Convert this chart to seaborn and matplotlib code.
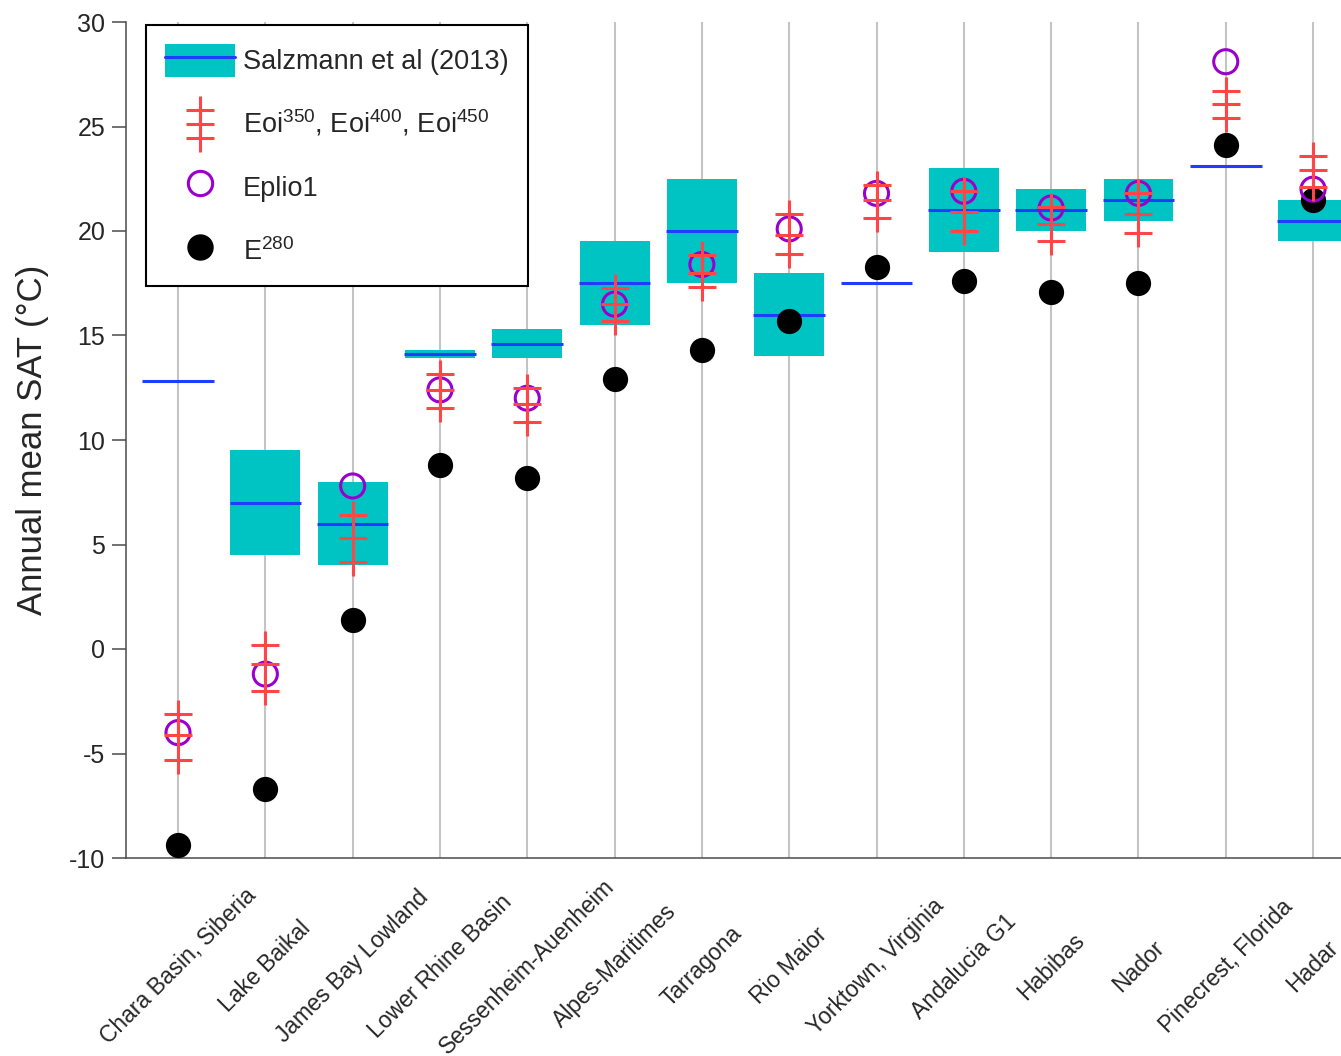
import numpy as np
import pandas as pd
import matplotlib
matplotlib.use("Agg")
import matplotlib.pyplot as plt
import seaborn as sns
from matplotlib.patches import Patch
from matplotlib.lines import Line2D
from matplotlib.markers import MarkerStyle
from matplotlib.legend_handler import HandlerBase, HandlerTuple

# ---- data -------------------------------------------------------------
sites = ["Chara Basin, Siberia", "Lake Baikal", "James Bay Lowland",
         "Lower Rhine Basin", "Sessenheim-Auenheim", "Alpes-Maritimes",
         "Tarragona", "Rio Maior", "Yorktown, Virginia", "Andalucia G1",
         "Habibas", "Nador", "Pinecrest, Florida", "Hadar"]

# Salzmann et al (2013) proxy estimates: range and best estimate
salz_low = [12.8, 4.5, 4.0, 13.9, 13.9, 15.5, 17.5, 14.0, 17.5, 19.0, 20.0, 20.5, 23.1, 19.5]
salz_mid = [12.8, 7.0, 6.0, 14.1, 14.6, 17.5, 20.0, 16.0, 17.5, 21.0, 21.0, 21.5, 23.1, 20.5]
salz_high = [12.8, 9.5, 8.0, 14.3, 15.3, 19.5, 22.5, 18.0, 17.5, 23.0, 22.0, 22.5, 23.1, 21.5]

# model simulations
eoi350 = [-5.3, -2.0, 4.15, 11.55, 10.85, 15.7, 17.3, 18.9, 20.6, 20.0, 19.5, 19.9, 25.4, 22.1]
eoi400 = [-4.1, -0.7, 5.3, 12.4, 11.7, 16.5, 18.0, 19.8, 21.5, 20.9, 20.35, 20.8, 26.1, 22.9]
eoi450 = [-3.1, 0.2, 6.4, 13.15, 12.5, 17.25, 18.85, 20.8, 22.2, 21.9, 21.15, 21.8, 26.7, 23.6]
eplio1 = [-4.0, -1.2, 7.8, 12.4, 12.0, 16.5, 18.4, 20.1, 21.8, 21.9, 21.1, 21.8, 28.1, 22.0]
e280 = [-9.4, -6.7, 1.4, 8.8, 8.2, 12.9, 14.3, 15.7, 18.3, 17.6, 17.1, 17.5, 24.1, 21.5]

yticks = [-10, -5, 0, 5, 10, 15, 20, 25, 30]

# ---- style ------------------------------------------------------------
CYAN = "#00c4c4"
BLUE = "#1f3dff"
RED = "#ff4545"
PURPLE = "#9a00cc"
GRID = "#c4c4c4"
SPINE = "#4a4a4a"

sns.set_theme(style="white")
plt.rcParams["font.family"] = ["Liberation Sans", "DejaVu Sans"]
plt.rcParams["mathtext.default"] = "regular"
plt.rcParams["mathtext.fontset"] = "custom"
plt.rcParams["mathtext.rm"] = "Liberation Sans"
plt.rcParams["axes.unicode_minus"] = False

fig = plt.figure(figsize=(13.41, 10.56), dpi=100)
ax = fig.add_axes([126 / 1341, 198 / 1056, 1215 / 1341, 836 / 1056])

n = len(sites)
xpos = np.arange(n)

# light vertical guide at every site
for xv in xpos:
    ax.axvline(xv, color=GRID, lw=1.5, zorder=0)

# proxy range boxes
heights = np.subtract(salz_high, salz_low)
sns.barplot(x=sites, y=heights, bottom=salz_low, color=CYAN, saturation=1,
            width=0.8, errorbar=None, edgecolor="none", linewidth=0,
            ax=ax, zorder=1)

# proxy best estimate
ax.hlines(salz_mid, xpos - 0.41, xpos + 0.41, color=BLUE, lw=2.2, zorder=2)

# E280 pre-industrial
sns.scatterplot(x=xpos, y=e280, marker="o", s=330, color="black",
                linewidth=0, ax=ax, zorder=3, legend=False)

# Eplio1
sns.scatterplot(x=xpos, y=eplio1, marker=MarkerStyle("o", fillstyle="none"),
                s=300, color=PURPLE, linewidth=2.2, ax=ax, zorder=4, legend=False)

# Eoi350 / Eoi400 / Eoi450
eoi = pd.DataFrame({"x": np.tile(xpos, 3),
                    "SAT": np.concatenate([eoi350, eoi400, eoi450])})
sns.scatterplot(data=eoi, x="x", y="SAT", marker="+", s=400, color=RED,
                linewidth=2.2, ax=ax, zorder=5, legend=False)

# ---- axes -------------------------------------------------------------
ax.set_xlim(-0.596, 13.32)
ax.set_ylim(-10, 30)
ax.set_yticks(yticks)
ax.set_yticklabels([str(t) for t in yticks], fontsize=18)
ax.set_xticks(xpos)
ax.set_xticklabels(sites, fontsize=16.5, rotation=45, ha="center", va="center",
                   rotation_mode="anchor")
ax.tick_params(axis="x", length=0, pad=78)
ax.tick_params(axis="y", left=True, length=10, width=1.1, color=SPINE, pad=5,
               direction="out")
ax.set_xlabel("")
ax.set_ylabel("Annual mean SAT (°C)", fontsize=25)
ax.yaxis.set_label_coords(-0.063, 0.5)
ax.grid(False)

for side in ["top", "right"]:
    ax.spines[side].set_visible(False)
for side in ["left", "bottom"]:
    ax.spines[side].set_color(SPINE)
    ax.spines[side].set_linewidth(1.1)


# ---- legend -----------------------------------------------------------
class TripleCross(HandlerBase):
    def create_artists(self, legend, orig_handle, xdescent, ydescent,
                       width, height, fontsize, trans):
        cx = width / 2 - xdescent
        cy = height / 2 - ydescent
        step = 10.1
        arts = []
        for k in (-1, 0, 1):
            ln = Line2D([cx], [cy + k * step], marker="+", markersize=20,
                        markeredgewidth=2.2, color=RED, linestyle="none",
                        transform=trans)
            arts.append(ln)
        return arts


class CrossKey:
    pass


h_salz = (Patch(facecolor=CYAN, edgecolor="none"),
          Line2D([], [], color=BLUE, lw=2.2))
h_eoi = CrossKey()
h_plio = Line2D([], [], marker=MarkerStyle("o", fillstyle="none"), markersize=17.5,
                markeredgewidth=2.2, color=PURPLE, linestyle="none")
h_e280 = Line2D([], [], marker="o", markersize=18, color="black", linestyle="none")

leg = ax.legend([h_salz, h_eoi, h_plio, h_e280],
                ["Salzmann et al (2013)",
                 r"Eoi$^{350}$, Eoi$^{400}$, Eoi$^{450}$",
                 "Eplio1",
                 r"E$^{280}$"],
                handler_map={tuple: HandlerTuple(ndivide=1, pad=0),
                             CrossKey: TripleCross()},
                loc="upper left", bbox_to_anchor=(0.0165, 0.9964),
                borderaxespad=0, fontsize=19.5, frameon=True, fancybox=False,
                edgecolor="black", framealpha=1, borderpad=0.7,
                handlelength=2.58, handleheight=1.5, handletextpad=0.3,
                labelspacing=1.12)
leg.get_frame().set_linewidth(1.5)
leg.set_zorder(10)

fig.savefig("out.png", dpi=100)
